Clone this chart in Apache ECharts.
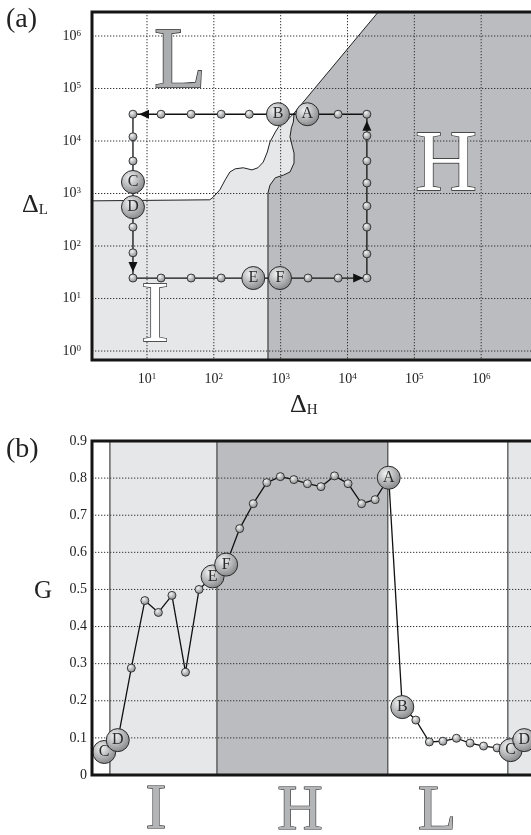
<!DOCTYPE html>
<html>
<head>
<meta charset="utf-8">
<script src="https://cdn.jsdelivr.net/npm/echarts@6/dist/echarts.min.js"></script>
<style>
html, body { margin: 0; padding: 0; background: #fff; }
#chart { width: 531px; height: 835px; }
</style>
</head>
<body>
<div id="chart"></div>
<script>
// ---- panel (a): log10 of Delta_H (x) and Delta_L (y) along the loop, starting at C ----
const loopLogH = [0.79, 0.79, 0.79, 0.79, 0.79, 1.21, 1.66, 2.11, 2.59, 2.99, 3.41, 3.86, 4.29,
  4.29, 4.29, 4.29, 4.29, 4.29, 4.29, 4.29, 3.86, 3.40, 2.96, 2.53, 2.11, 1.66, 1.21, 0.79, 0.79, 0.79]
const loopLogL = [3.22, 2.74, 2.36, 1.87, 1.39, 1.39, 1.39, 1.39, 1.39, 1.39, 1.39, 1.39, 1.39,
  1.85, 2.36, 2.76, 3.20, 3.62, 4.10, 4.51, 4.51, 4.51, 4.51, 4.51, 4.51, 4.51, 4.51, 4.51, 4.08, 3.62]
const markIdx = [21, 22, 0, 1, 8, 9]
const markNames = ['A', 'B', 'C', 'D', 'E', 'F']
const arrowLogH = [0.955, 0.79, 4.16, 4.29]
const arrowLogL = [4.51, 1.60, 1.39, 4.29]
const arrowDir = ['left', 'down', 'right', 'up']

// region boundaries (log10 units)
const lightEdgeH = [0.177, 1.94, 1.99, 2.09, 2.17, 2.24, 2.32, 2.44, 2.57, 2.66, 2.74, 2.80, 2.84, 2.92, 2.99, 3.10, 3.20]
const lightEdgeL = [2.86, 2.88, 2.93, 3.07, 3.26, 3.41, 3.47, 3.49, 3.45, 3.49, 3.60, 3.79, 3.98, 4.17, 4.31, 4.40, 4.53]
const darkEdgeH = [2.81, 2.81, 2.84, 2.92, 3.04, 3.14, 3.20, 3.20, 3.17, 3.14, 3.16, 3.19, 3.20, 4.46]
const darkEdgeL = [-0.171, 3.01, 3.16, 3.30, 3.35, 3.41, 3.58, 3.77, 3.92, 4.08, 4.25, 4.36, 4.53, 6.457]

const decadesH = [1, 2, 3, 4, 5, 6]
const decadesL = [0, 1, 2, 3, 4, 5, 6]

// ---- panel (b): G along the loop (index 0 = C) ----
const gValues = [0.062, 0.094, 0.288, 0.470, 0.438, 0.484, 0.277, 0.500, 0.535, 0.567,
  0.664, 0.731, 0.788, 0.804, 0.796, 0.785, 0.777, 0.806, 0.785, 0.731, 0.742, 0.801,
  0.183, 0.148, 0.089, 0.091, 0.099, 0.086, 0.078, 0.073, 0.067, 0.094]
const gTicks = [0, 0.1, 0.2, 0.3, 0.4, 0.5, 0.6, 0.7, 0.8, 0.9]
const bandEdges = [-0.9, 0.43, 8.33, 20.94, 29.8, 31.87]
const bandRegions = ['L', 'I', 'H', 'L', 'I']

const SERIF = 'Liberation Serif, Times New Roman, serif'
const regionFill = { L: '#ffffff', I: '#e6e7e8', H: '#bbbcbf' }
const A_MIN = [0.177, -0.171]
const A_MAX = [7, 6.457]

const ballColor = {
  type: 'radial', x: 0.38, y: 0.33, r: 0.78,
  colorStops: [
    { offset: 0, color: '#f4f4f4' },
    { offset: 0.45, color: '#b9babc' },
    { offset: 1, color: '#77787a' }
  ]
}

const loopPts = loopLogH.map((h, i) => [h, loopLogL[i]])
const gPts = gValues.map((g, i) => [i, g])

const bigA = markIdx.map((k, j) => ({ value: loopPts[k], name: markNames[j] }))
const bigB = []
markIdx.forEach((k, j) => {
  bigB.push({ value: gPts[k], name: markNames[j] })
  if (k + 30 < gValues.length) bigB.push({ value: gPts[k + 30], name: markNames[j] })
})
const rotOf = { left: 90, down: 180, right: -90, up: 0 }

function polygonSeries(xi, hs, ls, fill, z) {
  return {
    type: 'custom', xAxisIndex: xi, yAxisIndex: xi, z: z, silent: true,
    data: [[0, 0]],
    renderItem: (params, api) => ({
      type: 'polygon',
      shape: { points: hs.map((h, i) => api.coord([h, ls[i]])) },
      style: { fill: fill, stroke: null }
    })
  }
}

function gridLines(xi, vals, vertical) {
  return {
    type: 'custom', xAxisIndex: xi, yAxisIndex: xi, z: 3, silent: true,
    data: vals.map(v => (vertical ? [v, 0] : [0, v])),
    renderItem: (params, api) => {
      const r = params.coordSys
      const p = api.coord([api.value(0), api.value(1)])
      const shape = vertical
        ? { x1: p[0], y1: r.y, x2: p[0], y2: r.y + r.height }
        : { x1: r.x, y1: p[1], x2: r.x + r.width, y2: p[1] }
      return { type: 'line', shape: shape, style: { stroke: '#333', lineWidth: 1, lineDash: [1.3, 1.7] } }
    }
  }
}

function frame(xi) {
  return {
    type: 'custom', xAxisIndex: xi, yAxisIndex: xi, z: 9, silent: true,
    data: [[0, 0]],
    renderItem: (params) => {
      const r = params.coordSys
      return { type: 'rect', shape: { x: r.x, y: r.y, width: r.width, height: r.height },
        style: { fill: null, stroke: '#151515', lineWidth: 3 } }
    }
  }
}

const bigLabel = { show: true, position: 'inside', formatter: '{b}', fontFamily: SERIF, fontSize: 16, color: '#2a2a2a' }

const chart = echarts.init(document.getElementById('chart'))
chart.setOption({
  animation: false,
  backgroundColor: '#fff',
  grid: [
    { left: 92, top: 12, width: 456, height: 348, outerBoundsMode: 'none', containLabel: false },
    { left: 92, top: 441, width: 444, height: 334, outerBoundsMode: 'none', containLabel: false }
  ],
  xAxis: [
    {
      gridIndex: 0, type: 'value', min: A_MIN[0], max: A_MAX[0],
      axisLine: { show: false }, axisTick: { show: false }, splitLine: { show: false },
      axisLabel: {
        customValues: decadesH, margin: 12,
        formatter: v => '{b|10}{s|' + v + '}',
        rich: {
          b: { fontFamily: SERIF, fontSize: 14, color: '#222' },
          s: { fontFamily: SERIF, fontSize: 9, color: '#222', verticalAlign: 'top' }
        }
      }
    },
    { gridIndex: 1, type: 'value', min: bandEdges[0], max: bandEdges[bandEdges.length - 1], show: false }
  ],
  yAxis: [
    {
      gridIndex: 0, type: 'value', min: A_MIN[1], max: A_MAX[1],
      axisLine: { show: false }, axisTick: { show: false }, splitLine: { show: false },
      axisLabel: {
        customValues: decadesL, margin: 11,
        formatter: v => '{b|10}{s|' + v + '}',
        rich: {
          b: { fontFamily: SERIF, fontSize: 14, color: '#222' },
          s: { fontFamily: SERIF, fontSize: 9, color: '#222', verticalAlign: 'top' }
        }
      }
    },
    {
      gridIndex: 1, type: 'value', min: 0, max: 0.9, interval: 0.1,
      axisLine: { show: false }, axisTick: { show: false }, splitLine: { show: false },
      axisLabel: {
        margin: 5, fontFamily: SERIF, fontSize: 14, color: '#222',
        formatter: v => (v === 0 ? '0' : v.toFixed(1))
      }
    }
  ],
  graphic: [
    { type: 'text', left: 6, top: 6, style: { text: '(a)', font: '28px ' + SERIF, fill: '#222' } },
    { type: 'text', left: 6, top: 436, style: { text: '(b)', font: '28px ' + SERIF, fill: '#222' } },
    { type: 'text', left: 22, top: 192, style: { text: '{d|Δ}{s|L}', rich: {
      d: { fontFamily: SERIF, fontSize: 26, fill: '#222' },
      s: { fontFamily: SERIF, fontSize: 15, fill: '#222', verticalAlign: 'bottom' } } } },
    { type: 'text', left: 290, top: 392, style: { text: '{d|Δ}{s|H}', rich: {
      d: { fontFamily: SERIF, fontSize: 26, fill: '#222' },
      s: { fontFamily: SERIF, fontSize: 15, fill: '#222', verticalAlign: 'bottom' } } } },
    { type: 'text', x: 43, y: 591, style: { text: 'G', font: '25px ' + SERIF, fill: '#222', align: 'center', verticalAlign: 'middle' } },
    { type: 'text', x: 180, y: 64, z: 20, style: { text: 'L', font: '86px ' + SERIF, fill: '#acadaf', stroke: '#222', lineWidth: 1.3, align: 'center', verticalAlign: 'middle' } },
    { type: 'text', x: 446, y: 167, z: 20, style: { text: 'H', font: '86px ' + SERIF, fill: '#ffffff', stroke: '#222', lineWidth: 1.3, align: 'center', verticalAlign: 'middle' } },
    { type: 'text', x: 155, y: 318, z: 20, style: { text: 'I', font: '86px ' + SERIF, fill: '#ffffff', stroke: '#222', lineWidth: 1.3, align: 'center', verticalAlign: 'middle' } },
    { type: 'text', x: 156, y: 811, style: { text: 'I', font: '63px ' + SERIF, fill: '#b4b5b7', stroke: '#222', lineWidth: 1.1, align: 'center', verticalAlign: 'middle' } },
    { type: 'text', x: 300, y: 812, style: { text: 'H', font: '63px ' + SERIF, fill: '#b4b5b7', stroke: '#222', lineWidth: 1.1, align: 'center', verticalAlign: 'middle' } },
    { type: 'text', x: 437, y: 812, style: { text: 'L', font: '63px ' + SERIF, fill: '#b4b5b7', stroke: '#222', lineWidth: 1.1, align: 'center', verticalAlign: 'middle' } }
  ],
  series: [
    // ---------- panel (a) ----------
    polygonSeries(0, [A_MIN[0]].concat(lightEdgeH, [A_MAX[0], A_MAX[0]]),
      [A_MIN[1]].concat(lightEdgeL, [lightEdgeL[lightEdgeL.length - 1], A_MIN[1]]), regionFill.I, 1),
    polygonSeries(0, darkEdgeH.concat([A_MAX[0], A_MAX[0]]),
      darkEdgeL.concat([A_MAX[1], A_MIN[1]]), regionFill.H, 2),
    gridLines(0, decadesH, true),
    gridLines(0, decadesL, false),
    {
      type: 'line', xAxisIndex: 0, yAxisIndex: 0, z: 4, silent: true, symbol: 'none',
      data: lightEdgeH.map((h, i) => [h, lightEdgeL[i]]),
      lineStyle: { color: '#222', width: 1 }
    },
    {
      type: 'line', xAxisIndex: 0, yAxisIndex: 0, z: 4, silent: true, symbol: 'none',
      data: darkEdgeH.map((h, i) => [h, darkEdgeL[i]]),
      lineStyle: { color: '#222', width: 1 }
    },
    {
      type: 'line', xAxisIndex: 0, yAxisIndex: 0, z: 5, silent: true, symbol: 'none',
      data: loopPts.concat([loopPts[0]]),
      lineStyle: { color: '#111', width: 1.3 }
    },
    {
      type: 'scatter', xAxisIndex: 0, yAxisIndex: 0, z: 6, silent: true,
      data: loopPts, symbolSize: 8,
      itemStyle: { color: ballColor, borderColor: '#2a2a2a', borderWidth: 0.9, opacity: 1 }
    },
    {
      type: 'scatter', xAxisIndex: 0, yAxisIndex: 0, z: 6, silent: true,
      symbol: 'triangle', symbolSize: [9, 10],
      data: arrowLogH.map((h, i) => ({ value: [h, arrowLogL[i]], symbolRotate: rotOf[arrowDir[i]] })),
      itemStyle: { color: '#111', opacity: 1 }
    },
    {
      type: 'scatter', xAxisIndex: 0, yAxisIndex: 0, z: 7, silent: true,
      data: bigA, symbolSize: 23, label: bigLabel,
      itemStyle: { color: ballColor, borderColor: '#2a2a2a', borderWidth: 1, opacity: 1 }
    },
    frame(0),
    // ---------- panel (b) ----------
    {
      type: 'custom', xAxisIndex: 1, yAxisIndex: 1, z: 1, silent: true,
      data: bandRegions.map((r, i) => [i, 0]),
      renderItem: (params, api) => {
        const i = api.value(0)
        const p0 = api.coord([bandEdges[i], 0.9])
        const p1 = api.coord([bandEdges[i + 1], 0])
        return { type: 'rect', shape: { x: p0[0], y: p0[1], width: p1[0] - p0[0], height: p1[1] - p0[1] },
          style: { fill: regionFill[bandRegions[i]], stroke: '#4a4a4a', lineWidth: 1 } }
      }
    },
    gridLines(1, gTicks, false),
    {
      type: 'line', xAxisIndex: 1, yAxisIndex: 1, z: 5, silent: true, symbol: 'none',
      data: gPts, lineStyle: { color: '#111', width: 1.3 }
    },
    {
      type: 'scatter', xAxisIndex: 1, yAxisIndex: 1, z: 6, silent: true,
      data: gPts, symbolSize: 8,
      itemStyle: { color: ballColor, borderColor: '#2a2a2a', borderWidth: 0.9, opacity: 1 }
    },
    {
      type: 'scatter', xAxisIndex: 1, yAxisIndex: 1, z: 7, silent: true,
      data: bigB, symbolSize: 23, label: bigLabel,
      itemStyle: { color: ballColor, borderColor: '#2a2a2a', borderWidth: 1, opacity: 1 }
    },
    frame(1)
  ]
})
</script>
</body>
</html>
